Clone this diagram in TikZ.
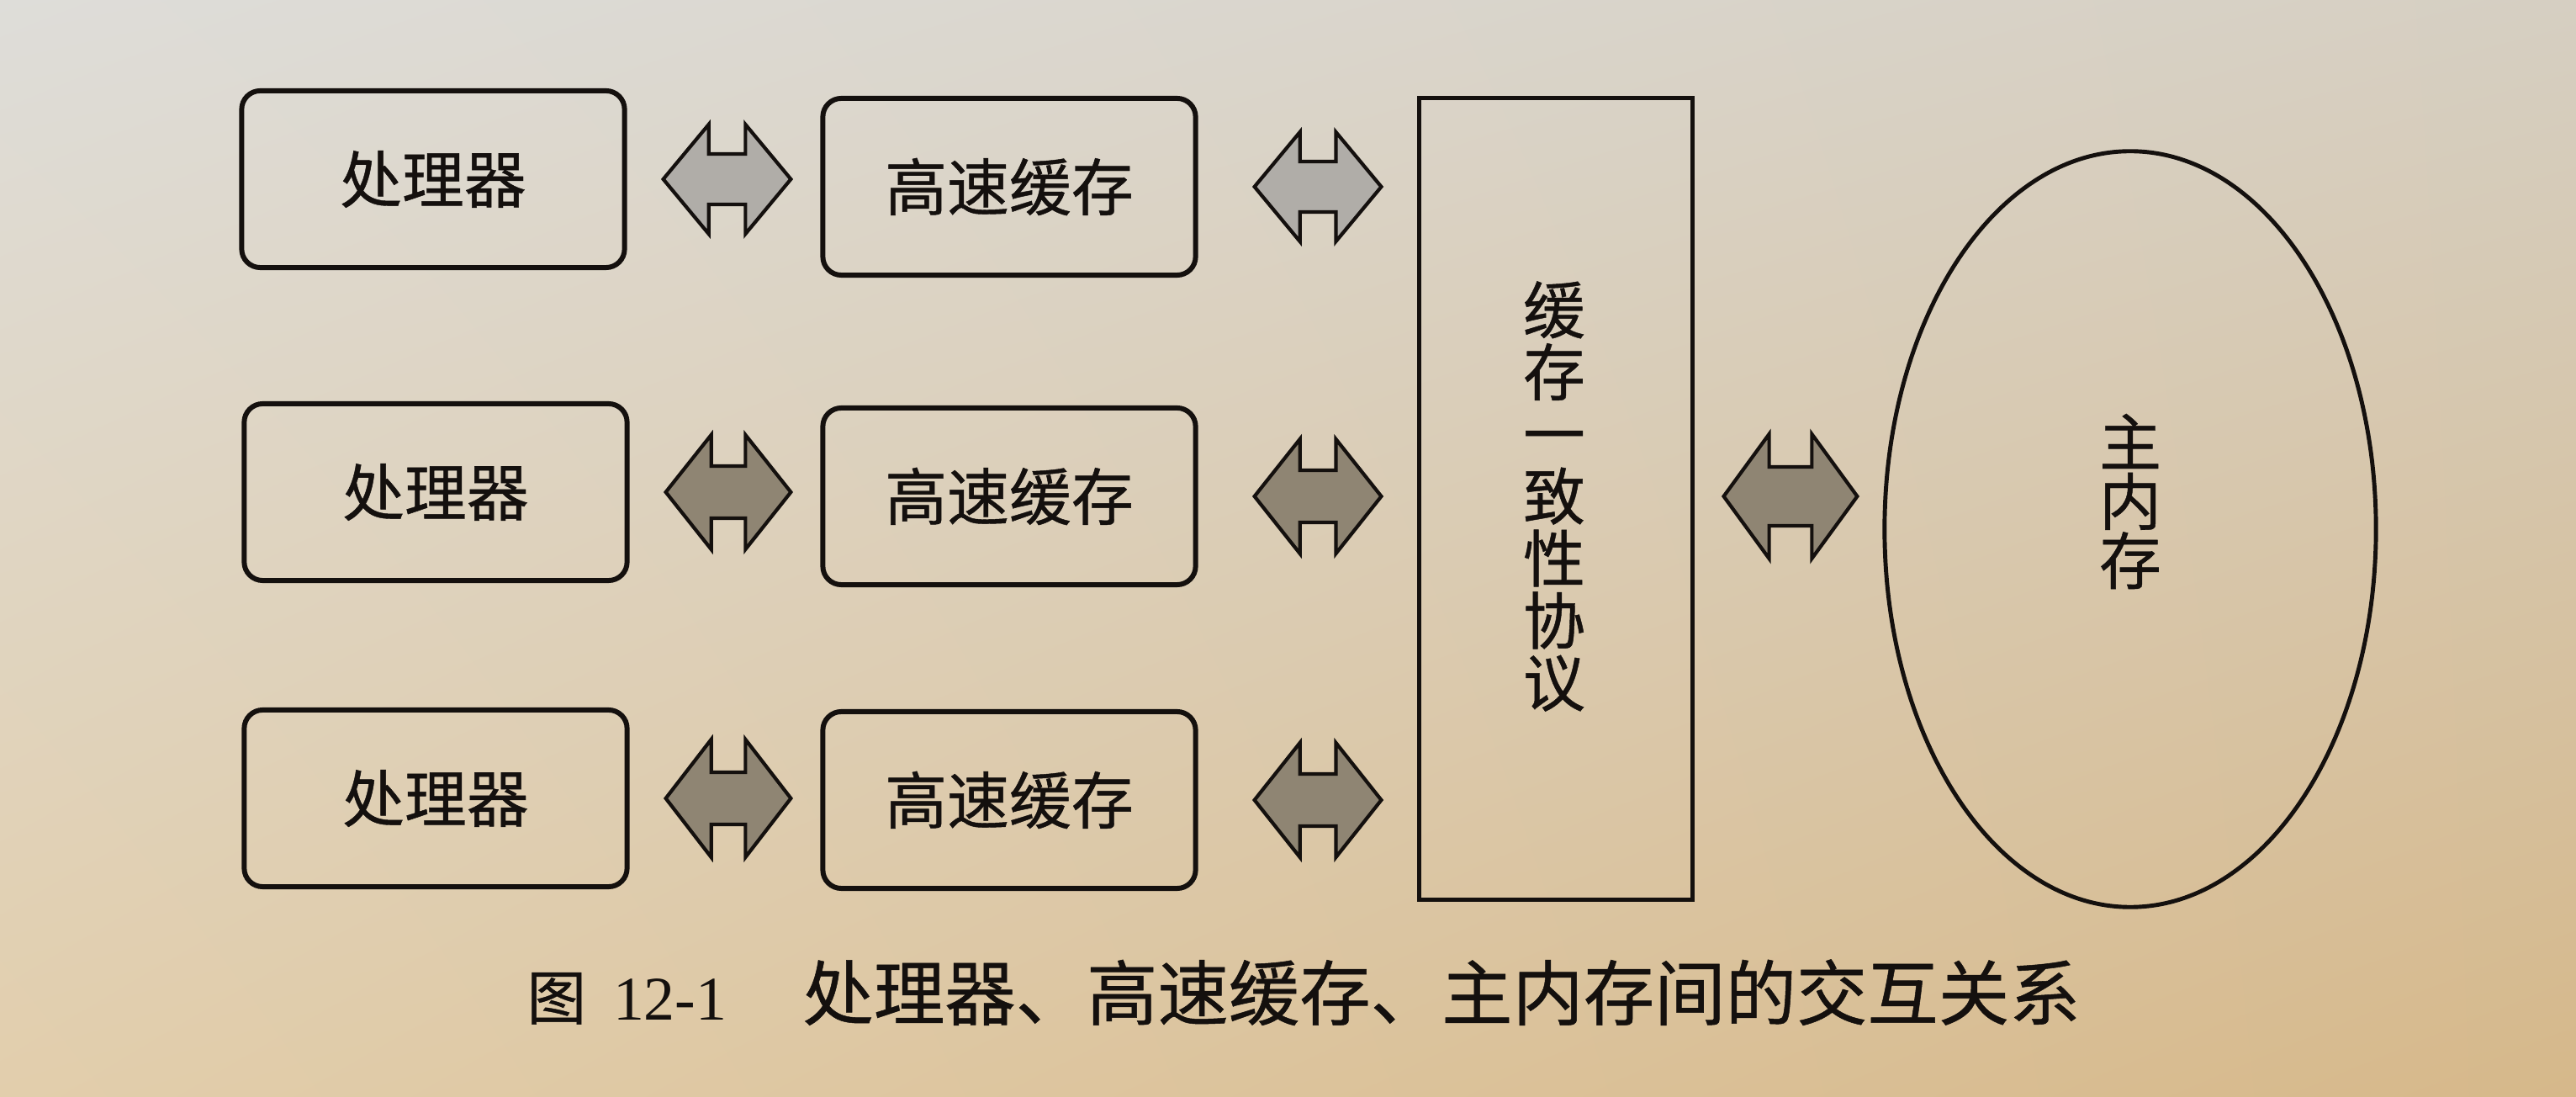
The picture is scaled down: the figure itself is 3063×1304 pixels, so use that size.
\documentclass[tikz,border=0pt]{standalone}
\usepackage{fontspec}
\setmainfont{Liberation Serif}
\newfontfamily\cjk{Noto Sans CJK SC}[FakeBold=0.6]
\usetikzlibrary{calc,shapes.geometric,shadings}
\definecolor{bgUL}{RGB}{222,221,217}
\definecolor{bgUR}{RGB}{214,207,194}
\definecolor{bgLL}{RGB}{226,206,172}
\definecolor{bgLR}{RGB}{214,184,138}
\definecolor{arrLight}{RGB}{176,173,168}
\definecolor{arrDark}{RGB}{143,133,115}
\definecolor{ink}{RGB}{20,16,14}
\tikzset{
  rbox/.style={draw=ink, line width=1.7pt, rounded corners=0.22cm, inner sep=0pt,
    minimum height=2.1cm, font=\cjk\fontsize{21}{21}\selectfont, text=ink},
  procbox/.style={rbox, minimum width=4.55cm},
  cachebox/.style={rbox, minimum width=4.43cm},
  protobox/.style={draw=ink, line width=1.4pt, inner sep=0pt, minimum width=3.24cm,
    minimum height=9.53cm},
  membox/.style={draw=ink, line width=1.4pt, ellipse, inner sep=0pt,
    minimum width=5.84cm, minimum height=8.98cm},
  vtext/.style={font=\cjk\fontsize{21}{21}\selectfont, align=center, text=ink, inner sep=0pt},
  blockarr/.style={draw=ink, line width=1.2pt, line join=miter},
}
% #1 start, #2 end, #3 head length, #4 half head height, #5 half shaft height, #6 fill
\newcommand\blkarrow[6]{%
  \path[blockarr,fill=#6] let \p1=(#1), \p2=(#2) in
    (\x1,\y1) -- (\x1+#3,\y1+#4) -- (\x1+#3,\y1+#5) -- (\x2-#3,\y1+#5) --
    (\x2-#3,\y1+#4) -- (\x2,\y1) -- (\x2-#3,\y1-#4) -- (\x2-#3,\y1-#5) --
    (\x1+#3,\y1-#5) -- (\x1+#3,\y1-#4) -- cycle;}
\begin{document}
\begin{tikzpicture}[x=0.01cm,y=-0.01cm]
\useasboundingbox (0,0) rectangle (3063,1304);
\shade[upper left=bgUL, upper right=bgUR, lower left=bgLL, lower right=bgLR]
  (0,0) rectangle (3063,1304);

\node[procbox] (p1) at (515,213) {处理器};
\node[procbox] (p2) at (518,585) {处理器};
\node[procbox] (p3) at (518,949) {处理器};
\node[cachebox] (c1) at (1200,222) {高速缓存};
\node[cachebox] (c2) at (1200,590) {高速缓存};
\node[cachebox] (c3) at (1200,951) {高速缓存};
\node[protobox] (proto) at (1850,593) {};
\node[vtext] (prototxt) at (1848,590) {缓\\存\\一\\致\\性\\协\\议};
\node[membox] (mem) at (2533,629) {};
\node[vtext, font=\cjk\fontsize{21}{20}\selectfont] (memtxt) at ($(mem.center)+(0,-33)$) {主\\内\\存};

\blkarrow{$(p1.east)+(43,0)$}{$(c1.west |- p1.east)+(-35,0)$}{0.54cm}{0.65cm}{0.30cm}{arrLight}
\blkarrow{$(p2.east)+(43,0)$}{$(c2.west |- p2.east)+(-35,0)$}{0.54cm}{0.68cm}{0.31cm}{arrDark}
\blkarrow{$(p3.east)+(43,0)$}{$(c3.west |- p3.east)+(-35,0)$}{0.54cm}{0.70cm}{0.31cm}{arrDark}
\blkarrow{$(c1.east)+(67,0)$}{$(proto.west |- c1.east)+(-43,0)$}{0.54cm}{0.65cm}{0.30cm}{arrLight}
\blkarrow{$(c2.east)+(67,0)$}{$(proto.west |- c2.east)+(-43,0)$}{0.54cm}{0.68cm}{0.31cm}{arrDark}
\blkarrow{$(c3.east)+(67,0)$}{$(proto.west |- c3.east)+(-43,0)$}{0.54cm}{0.68cm}{0.31cm}{arrDark}
\blkarrow{$(proto.east |- 0,590)+(35,0)$}{$(mem.west |- 0,590)+(-30,0)$}{0.54cm}{0.74cm}{0.35cm}{arrDark}

\node[text=ink, inner sep=0pt, anchor=base west, font=\fontsize{21}{21}\selectfont] (cap) at (626,1212)
  {{\cjk\fontsize{20}{20}\selectfont 图}\hspace{0.32cm}12-1\hspace{0.9cm}{\cjk\fontsize{24}{24}\selectfont 处理器、高速缓存、主内存间的交互关系}};
\end{tikzpicture}
\end{document}
